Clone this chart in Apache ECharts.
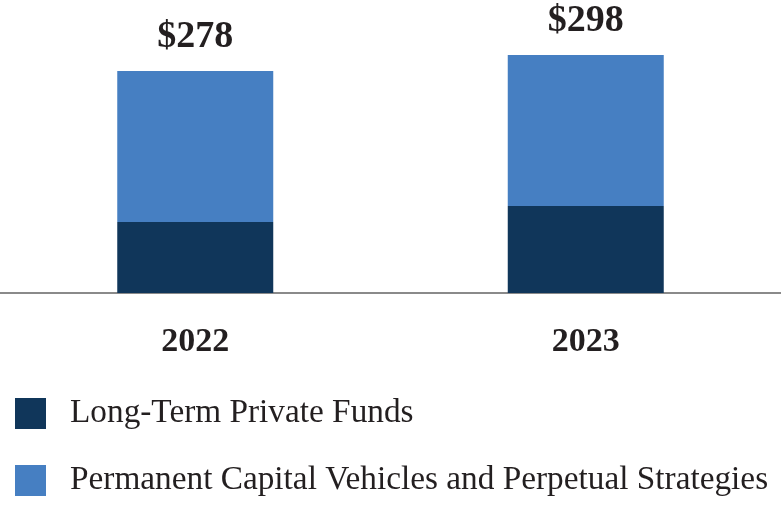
<!DOCTYPE html>
<html>
<head>
<meta charset="utf-8">
<script src="https://cdn.jsdelivr.net/npm/echarts@6/dist/echarts.min.js"></script>
<style>html,body{margin:0;padding:0;background:#fff}#c{width:781px;height:507px}</style>
</head>
<body>
<div id="c"></div>
<script>
const categories = ['2022', '2023'];
const longTermPrivateFunds = [89, 109];
const permanentCapital = [189, 189];
const totals = [278, 298];
const seriesNames = ['Long-Term Private Funds', 'Permanent Capital Vehicles and Perpetual Strategies'];

const FONT = '"Liberation Serif", "Times New Roman", serif';
const chart = echarts.init(document.getElementById('c'));
chart.setOption({
  animation: false,
  backgroundColor: '#ffffff',
  grid: { left: 0, right: 0, top: 13.5, bottom: 214, containLabel: false },
  xAxis: {
    type: 'category',
    data: categories,
    axisLine: { show: true, lineStyle: { color: '#8a8a8a', width: 2 } },
    axisTick: { show: false },
    axisLabel: { margin: 32, fontFamily: FONT, fontWeight: 'bold', fontSize: 34, color: '#231f20' }
  },
  yAxis: { type: 'value', min: 0, max: 350, show: false, splitLine: { show: false } },
  legend: {
    orient: 'vertical', left: 15, top: 397, padding: 0,
    itemWidth: 31, itemHeight: 31, itemGap: 34,
    icon: 'rect',
    data: seriesNames,
    textStyle: { fontFamily: FONT, fontSize: 33.3, lineHeight: 20, color: '#231f20', padding: [8, 0, 0, 19] }
  },
  series: [
    {
      name: seriesNames[0], type: 'bar', stack: 'a', barWidth: 156,
      itemStyle: { color: '#10365a' },
      data: longTermPrivateFunds
    },
    {
      name: seriesNames[1], type: 'bar', stack: 'a', barWidth: 156,
      itemStyle: { color: '#467fc2' },
      label: {
        show: true, position: 'top', distance: 15,
        fontFamily: FONT, fontWeight: 'bold', fontSize: 38, color: '#231f20',
        formatter: p => '$' + totals[p.dataIndex]
      },
      data: permanentCapital
    }
  ]
});
</script>
</body>
</html>
